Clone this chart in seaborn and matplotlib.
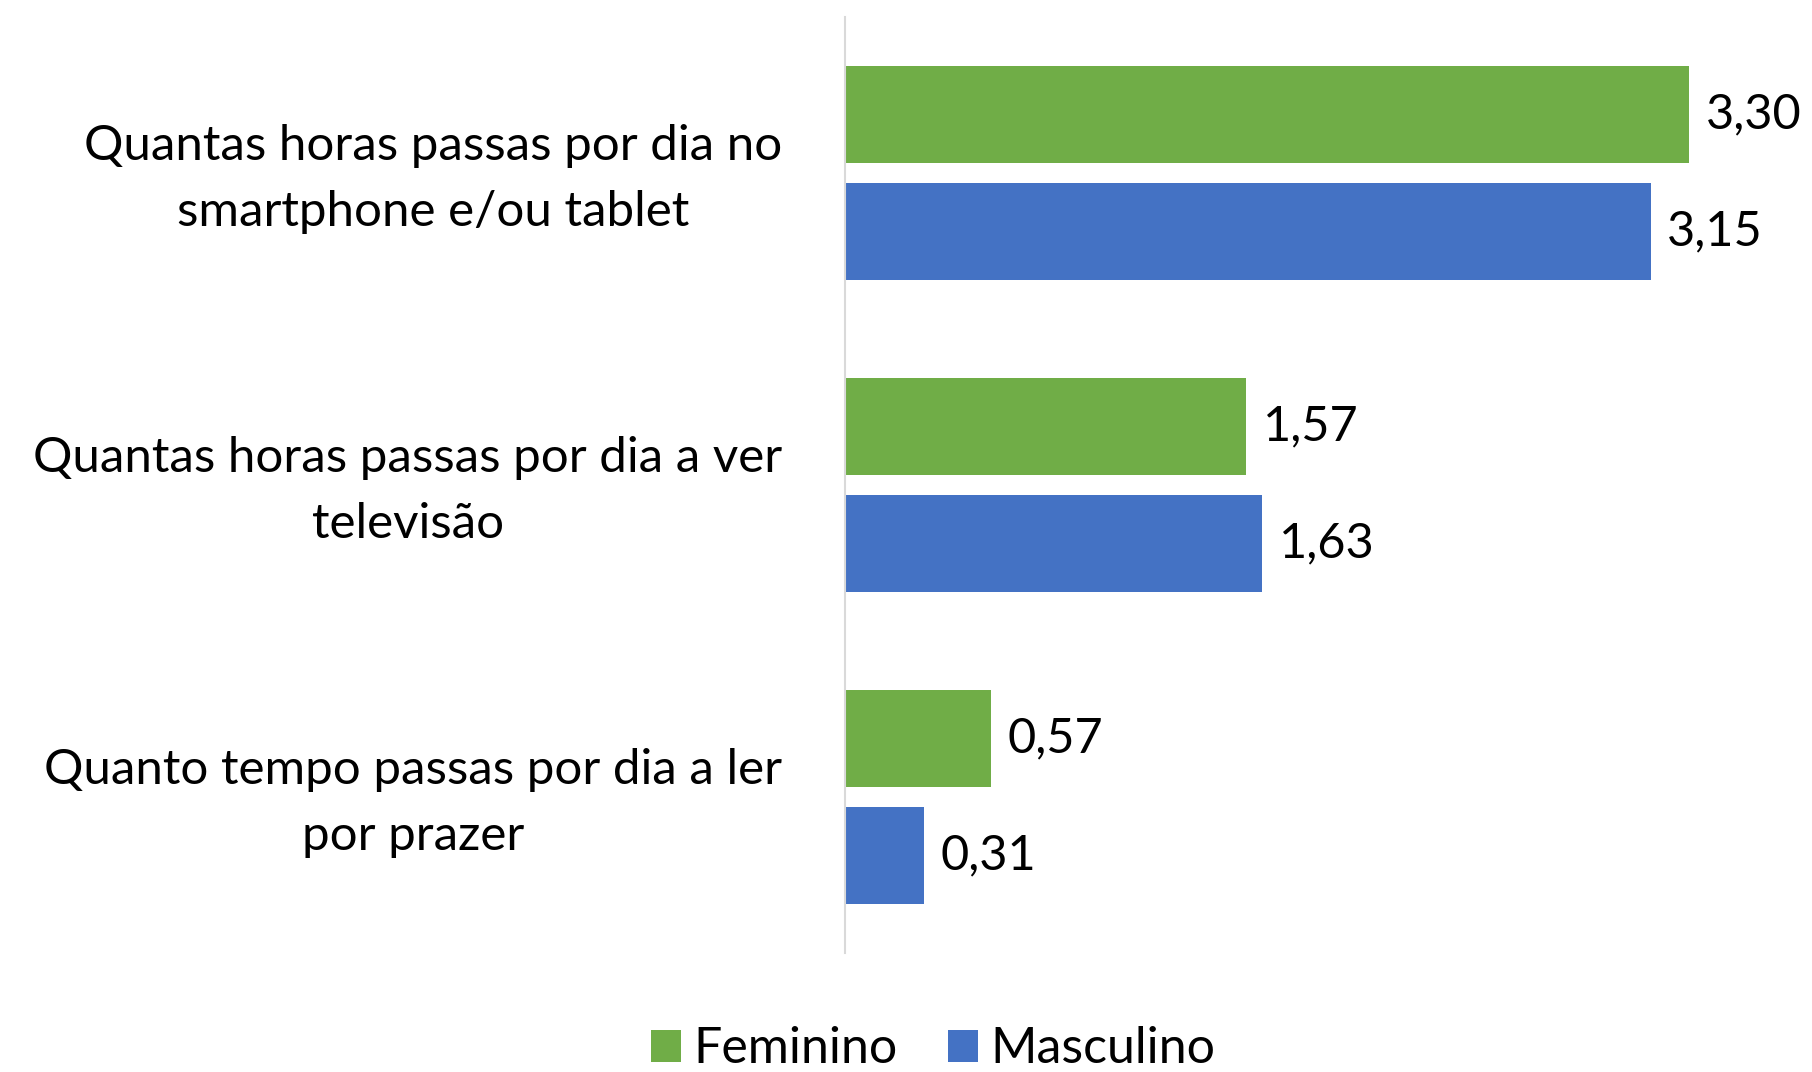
import pandas as pd
import matplotlib.pyplot as plt
import matplotlib.transforms as mtransforms
import seaborn as sns

# dados do gráfico
perguntas = [
    "Quantas horas passas por dia no\nsmartphone e/ou tablet",
    "Quantas horas passas por dia a ver\ntelevisão",
    "Quanto tempo passas por dia a ler\npor prazer",
]
sexos = ["Feminino", "Masculino"]
feminino = [3.30, 1.57, 0.57]
masculino = [3.15, 1.63, 0.31]
cores = ["#70AD47", "#4472C4"]

df = pd.DataFrame({
    "pergunta": perguntas * 2,
    "sexo": ["Feminino"] * 3 + ["Masculino"] * 3,
    "valor": feminino + masculino,
})

sns.set_style("white")
plt.rcParams['font.family'] = ['Lato', 'DejaVu Sans']
plt.rcParams['text.color'] = 'black'
plt.rcParams['ytick.color'] = 'black'

fig = plt.figure(figsize=(18.12, 10.72), dpi=100)
ax = fig.add_axes([0.4663, 0.111, 0.494, 0.873])

sns.barplot(data=df, x="valor", y="pergunta", hue="sexo", hue_order=sexos,
            palette=cores, saturation=1, orient="h", width=0.75, gap=0.17,
            linewidth=0, ax=ax)

ax.set_xlim(0, 3.5)
ax.set_ylim(2.5, -0.5)
ax.set_xlabel("")
ax.set_ylabel("")
ax.set_xticks([])

for s in ["top", "right", "bottom"]:
    ax.spines[s].set_visible(False)
ax.spines["left"].set_color("#D9D9D9")
ax.spines["left"].set_linewidth(1.5)

ax.tick_params(axis="y", length=0, pad=45, labelsize=35.5, labelcolor="black")
# subir um pouco os rótulos
subir = mtransforms.ScaledTranslation(0, 0.09, fig.dpi_scale_trans)
for lbl in ax.get_yticklabels():
    lbl.set_multialignment("center")
    lbl.set_linespacing(1.6)
    lbl.set_transform(lbl.get_transform() + subir)

for cont in ax.containers:
    ax.bar_label(cont, labels=[f"{v:.2f}".replace(".", ",") for v in cont.datavalues],
                 padding=12, fontsize=35, color="black")

handles, labels = ax.get_legend_handles_labels()
ax.legend_.remove()
fig.legend(handles, labels, loc="center", bbox_to_anchor=(0.515, 0.021), ncol=2,
           frameon=False, fontsize=36, handlelength=0.6, handleheight=0.6,
           handletextpad=0.25, columnspacing=1.0)

fig.savefig("out.png", dpi=100)
plt.close()
